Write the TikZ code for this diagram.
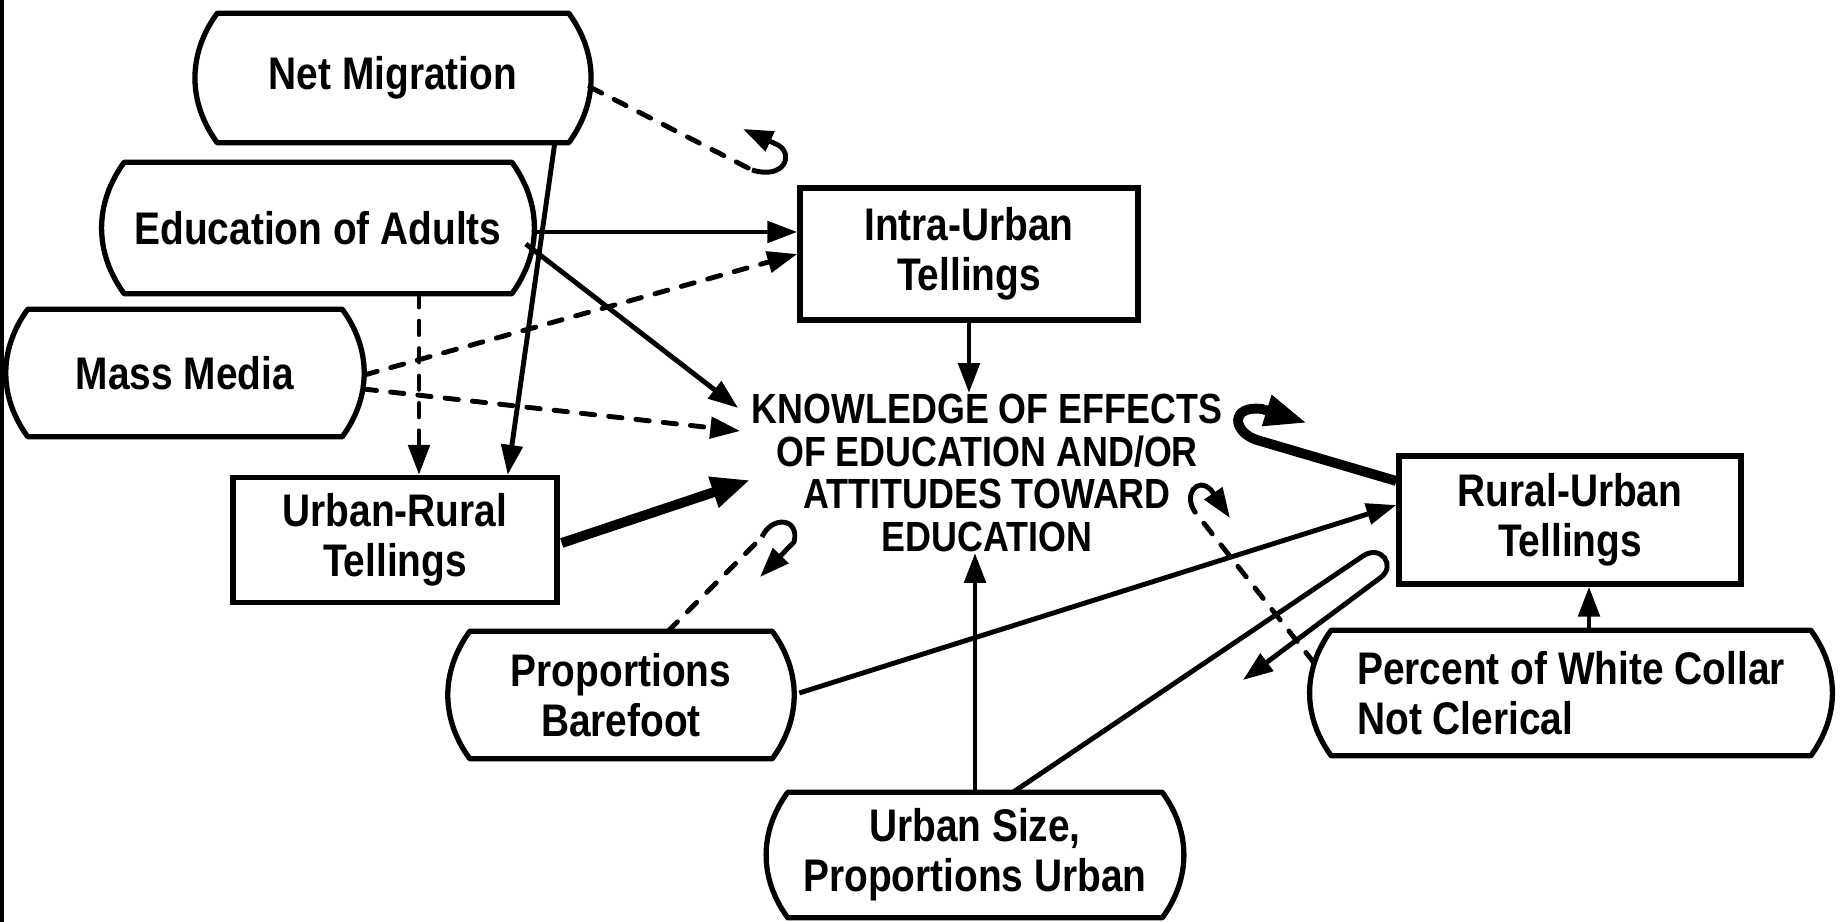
\documentclass[tikz,border=0pt]{standalone}
\usepackage{fontspec}
\setmainfont{Liberation Sans}[FakeStretch=0.85]
\usetikzlibrary{arrows.meta,calc}

\tikzset{
  varbox/.style={font=\fontsize{13}{14.2}\selectfont\bfseries, align=center, inner sep=0pt},
  tellbox/.style={varbox, draw, line width=1.5pt},
  bigtext/.style={font=\fontsize{12}{12.2}\selectfont\bfseries, align=center, inner sep=0pt},
  tip/.style={-{Triangle[length=8.5pt,width=6pt]}},
  arr/.style={line width=1.4pt, tip},
  heavy/.style={line width=2.8pt, -{Triangle[length=11pt,width=8.5pt]}},
  broken/.style={line width=1.4pt, line cap=round, dash pattern=on 3.8pt off 4pt},
}

\begin{document}
\begin{tikzpicture}[x=0.01cm, y=-0.01cm]
    \useasboundingbox (0,0) rectangle (1845,922);
    \draw[line width=1.2pt] (2,0) -- (2,922);

    % Variables
    \node[varbox, minimum width=3.5cm, minimum height=1.28cm] (mig) at (393,78) {Net Migration};
    \node[varbox, minimum width=3.86cm, minimum height=1.3cm] (edu) at (318,228) {Education of Adults};
    \node[varbox, minimum width=3.13cm, minimum height=1.26cm] (media) at (185,373) {Mass Media};
    \node[varbox, minimum width=3.01cm, minimum height=1.26cm] (bare) at (621,695) {Proportions\\Barefoot};
    \node[varbox, align=left, minimum width=4.78cm, minimum height=1.24cm] (white) at (1571,693) {Percent of White Collar\\Not Clerical};
    \node[varbox, minimum width=3.73cm, minimum height=1.24cm] (size) at (975,855) {Urban Size,\\Proportions Urban};

    % Tellings
    \node[tellbox, minimum width=3.38cm, minimum height=1.32cm] (intra) at (969,254) {Intra-Urban\\Tellings};
    \node[tellbox, minimum width=3.24cm, minimum height=1.25cm] (ur) at (395,540) {Urban-Rural\\Tellings};
    \node[tellbox, minimum width=3.42cm, minimum height=1.28cm] (ru) at (1570,520) {Rural-Urban\\Tellings};

    \node[bigtext] (know) at (987,473) {KNOWLEDGE OF EFFECTS\\OF EDUCATION AND/OR\\ATTITUDES TOWARD\\EDUCATION};

    % Barrel outlines
    \foreach \n in {mig,edu,media,bare,white,size}
        \draw[line width=1.5pt, line join=round] (\n.north west) -- (\n.north east)
            to[bend left=36] (\n.south east) -- (\n.south west)
            to[bend left=36] (\n.north west) -- cycle;

    % Free ends of the curls
    \coordinate (migcurl) at (752,170);
    \coordinate (migtip) at (743,129);
    \coordinate (barecurl) at (762,537);
    \coordinate (baretip) at (760,577);
    \coordinate (whitecurl) at (1195,512);
    \coordinate (whitetip) at (1230,518);
    \coordinate (rucurl) at (1257,440);
    \coordinate (rutip) at (1307,423);
    \coordinate (sizeloop) at (1363,556);
    \coordinate (sizetip) at (1243,680);

    % Solid links
    \draw[arr] ($(mig.south east)+(-14,0)$) -- ($(ur.north east)+(-52,0)$);
    \draw[arr] ($(edu.east)+(20,4)$) -- ($(intra.west)+(0,-22)$);
    \draw[arr] ($(edu.east)+(14,16)$) -- ($(know.north west)+(-13,15)$);
    \draw[arr] (intra.south) -- (intra.south |- know.north);
    \draw[heavy] ($(ur.east)+(2,3)$) -- ($(know.west)+(-1,7)$);
    \draw[arr] ($(bare.east)+(27,-2)$) -- ($(ru.west)+(0,-15)$);
    \draw[arr] (size.north) -- (size.north |- know.south);
    \draw[arr] ($(white.north)+(18,0)$) -- ($(ru.south)+(19,0)$);

    % Dashed links
    \draw[broken, tip] ($(edu.south)+(101,0)$) -- ($(ur.north)+(24,0)$);
    \draw[broken, tip] ($(media.east)+(22,2)$) -- (intra.west);
    \draw[broken, tip] ($(media.east)+(21,16)$) -- ($(know.north west)+(-11,38)$);
    \draw[broken] ($(mig.east)+(21,9)$) -- (migcurl);
    \draw[broken] ($(bare.north)+(47,0)$) -- (barecurl);
    \draw[broken] ($(white.west)+(-17,-30)$) -- (whitecurl);

    % Curls
    \draw[arr] (migcurl) .. controls (785,180) and (794,154) .. (778,145) -- (migtip);
    \draw[arr] (barecurl) .. controls (772,515) and (800,518) .. (794,542) -- (baretip);
    \draw[arr] (whitecurl) .. controls (1183,495) and (1197,476) .. (1211,490) -- (whitetip);
    \draw[line width=2.8pt, -{Triangle[length=12pt,width=8.5pt]}] ($(ru.west)+(0,-39)$) -- (rucurl)
        .. controls (1232,432) and (1230,405) .. (1262,409) -- (rutip);
    \draw[arr] ($(size.north)+(38,0)$) -- (sizeloop)
        .. controls (1381,544) and (1397,566) .. (1380,578) -- (sizetip);
\end{tikzpicture}
\end{document}
